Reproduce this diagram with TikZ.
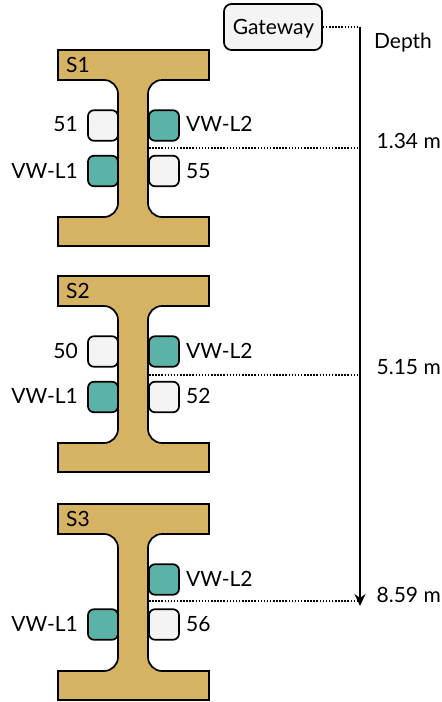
\documentclass[tikz,border=0pt]{standalone}
\usepackage{fontspec}
\setmainfont{Lato}
\usetikzlibrary{arrows.meta}
\definecolor{beamcol}{HTML}{D6B263}
\definecolor{teal}{HTML}{5BB3A8}
\definecolor{pale}{HTML}{F4F4F4}
\tikzset{
  beam/.style={draw=black,fill=beamcol,line width=1.7pt,line join=miter},
  sensor/.style={draw=black,line width=1.7pt,rounded corners=6pt,minimum width=30pt,minimum height=30.5pt,inner sep=0pt,anchor=center},
  vw/.style={sensor,fill=teal},
  plain/.style={sensor,fill=pale},
  lbl/.style={font=\fontsize{21}{23}\selectfont,inner sep=0pt,text=black},
  dots/.style={line width=1.5pt,dash pattern=on 1.5pt off 1.6pt},
  gatebox/.style={draw=black,fill=pale,line width=1.7pt,rounded corners=7.5pt,minimum width=98pt,minimum height=46pt,inner sep=0pt},
}
\newcommand{\ibeam}[2]{%
  \draw[beam] (58,#1) -- (209,#1) -- (209,#1+30)
    -- (162,#1+30) .. controls (154.3,#1+30) and (148,#1+36.3) .. (148,#1+44)
    -- (148,#1+153) .. controls (148,#1+160.7) and (154.3,#1+167) .. (162,#1+167)
    -- (209,#1+167) -- (209,#1+196) -- (58,#1+196) -- (58,#1+167)
    -- (104,#1+167) .. controls (111.7,#1+167) and (118,#1+160.7) .. (118,#1+153)
    -- (118,#1+44) .. controls (118,#1+36.3) and (111.7,#1+30) .. (104,#1+30)
    -- (58,#1+30) -- cycle;
  \node[lbl,anchor=west] at (66,#1+15) {#2};
}
\begin{document}
\begin{tikzpicture}[x=1pt,y=-1pt]
\useasboundingbox (0,0) rectangle (442,702);
% beams
\ibeam{50}{S1}
\ibeam{276}{S2}
\ibeam{504}{S3}
% gateway and depth axis
\node[gatebox] (gateway) at (273,27) {};
\node[lbl] (gatetext) at (273.5,28.5) {Gateway};
\coordinate (corner) at (360,27);
\coordinate (end) at (360,606);
\draw[line width=1.7pt,-{Stealth[length=12pt,width=11pt]}] (corner) -- (end);
\draw[dots] (gateway.east) -- (corner);
\node[lbl] (depth) at (403,43) {Depth};
% S1 sensors
\node[plain] (a1) at (103,125.5) {};
\node[vw] (a2) at (164,125.5) {};
\node[vw] (a3) at (103,171) {};
\node[plain] (a4) at (164,171) {};
\node[lbl,anchor=east] (a1l) at (78,124) {51};
\node[lbl,anchor=west] (a2l) at (186,124) {VW-L2};
\node[lbl,anchor=east] (a3l) at (78,171) {VW-L1};
\node[lbl,anchor=west] (a4l) at (186,171) {55};
% S2 sensors
\node[plain] (b1) at (103,351.5) {};
\node[vw] (b2) at (164,351.5) {};
\node[vw] (b3) at (103,397) {};
\node[plain] (b4) at (164,397) {};
\node[lbl,anchor=east] (b1l) at (78,351) {50};
\node[lbl,anchor=west] (b2l) at (186,351) {VW-L2};
\node[lbl,anchor=east] (b3l) at (78,396) {VW-L1};
\node[lbl,anchor=west] (b4l) at (186,396) {52};
% S3 sensors
\node[vw] (c2) at (164,579.5) {};
\node[vw] (c3) at (103,624.5) {};
\node[plain] (c4) at (164,624.5) {};
\node[lbl,anchor=west] (c2l) at (186,579) {VW-L2};
\node[lbl,anchor=east] (c3l) at (78,624) {VW-L1};
\node[lbl,anchor=west] (c4l) at (186,624) {56};
% depth levels
\coordinate (s1) at (149,148);
\coordinate (s2) at (149,375);
\coordinate (s3) at (149,601);
\draw[dots] (s1) -- (s1 -| corner);
\draw[dots] (s2) -- (s2 -| corner);
\draw[dots] (s3) -- (s3 -| corner);
\node[lbl,anchor=east] (d1) at (441,141) {1.34 m};
\node[lbl,anchor=east] (d2) at (441,367) {5.15 m};
\node[lbl,anchor=east] (d3) at (441,595) {8.59 m};
\end{tikzpicture}
\end{document}
